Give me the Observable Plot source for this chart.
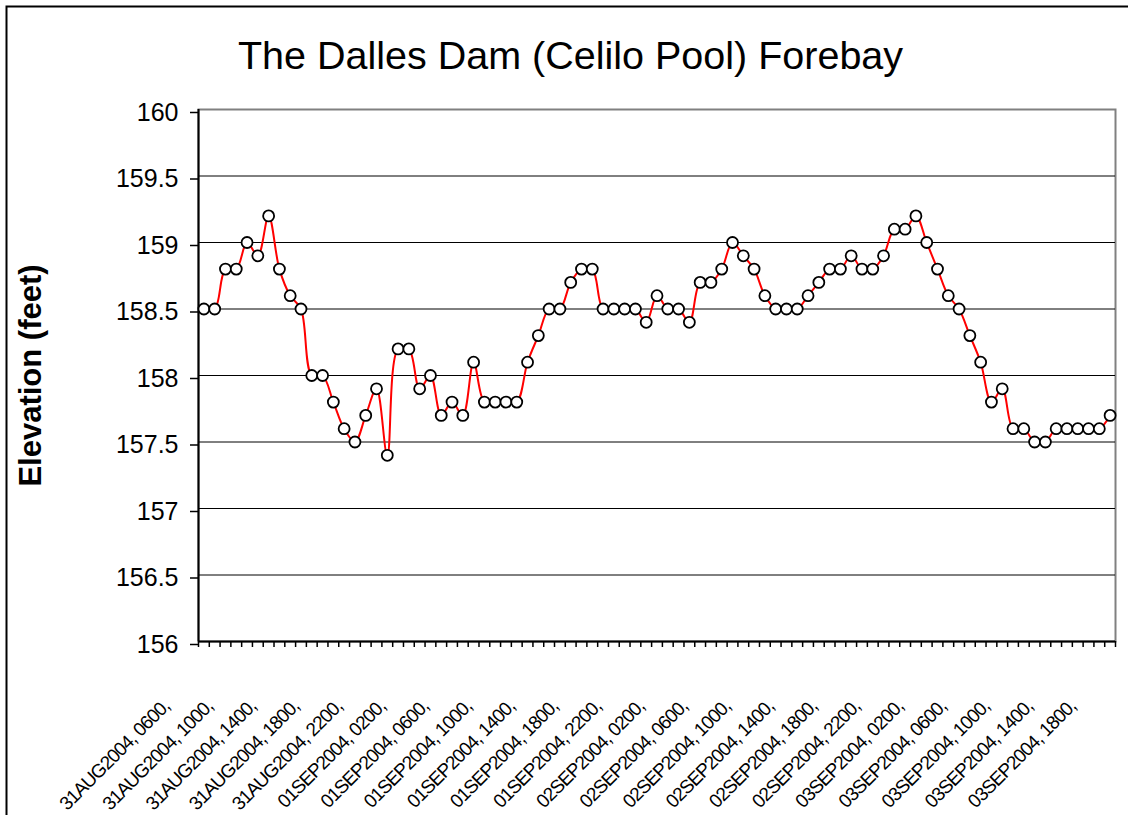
<!DOCTYPE html>
<html><head><meta charset="utf-8">
<script src="https://cdn.jsdelivr.net/npm/d3@7"></script>
<script src="https://cdn.jsdelivr.net/npm/@observablehq/plot@0.6"></script>
<style>
html,body{margin:0;padding:0;background:#fff;}
#chart{width:1128px;height:815px;overflow:hidden;}
</style></head><body><div id="chart"></div>
<script>
const title = "The Dalles Dam (Celilo Pool) Forebay";
const yLabel = "Elevation (feet)";

const categories = [
"31AUG2004, 0600,","31AUG2004, 0700,","31AUG2004, 0800,","31AUG2004, 0900,","31AUG2004, 1000,","31AUG2004, 1100,",
"31AUG2004, 1200,","31AUG2004, 1300,","31AUG2004, 1400,","31AUG2004, 1500,","31AUG2004, 1600,","31AUG2004, 1700,",
"31AUG2004, 1800,","31AUG2004, 1900,","31AUG2004, 2000,","31AUG2004, 2100,","31AUG2004, 2200,","31AUG2004, 2300,",
"01SEP2004, 0000,","01SEP2004, 0100,","01SEP2004, 0200,","01SEP2004, 0300,","01SEP2004, 0400,","01SEP2004, 0500,",
"01SEP2004, 0600,","01SEP2004, 0700,","01SEP2004, 0800,","01SEP2004, 0900,","01SEP2004, 1000,","01SEP2004, 1100,",
"01SEP2004, 1200,","01SEP2004, 1300,","01SEP2004, 1400,","01SEP2004, 1500,","01SEP2004, 1600,","01SEP2004, 1700,",
"01SEP2004, 1800,","01SEP2004, 1900,","01SEP2004, 2000,","01SEP2004, 2100,","01SEP2004, 2200,","01SEP2004, 2300,",
"02SEP2004, 0000,","02SEP2004, 0100,","02SEP2004, 0200,","02SEP2004, 0300,","02SEP2004, 0400,","02SEP2004, 0500,",
"02SEP2004, 0600,","02SEP2004, 0700,","02SEP2004, 0800,","02SEP2004, 0900,","02SEP2004, 1000,","02SEP2004, 1100,",
"02SEP2004, 1200,","02SEP2004, 1300,","02SEP2004, 1400,","02SEP2004, 1500,","02SEP2004, 1600,","02SEP2004, 1700,",
"02SEP2004, 1800,","02SEP2004, 1900,","02SEP2004, 2000,","02SEP2004, 2100,","02SEP2004, 2200,","02SEP2004, 2300,",
"03SEP2004, 0000,","03SEP2004, 0100,","03SEP2004, 0200,","03SEP2004, 0300,","03SEP2004, 0400,","03SEP2004, 0500,",
"03SEP2004, 0600,","03SEP2004, 0700,","03SEP2004, 0800,","03SEP2004, 0900,","03SEP2004, 1000,","03SEP2004, 1100,",
"03SEP2004, 1200,","03SEP2004, 1300,","03SEP2004, 1400,","03SEP2004, 1500,","03SEP2004, 1600,","03SEP2004, 1700,",
"03SEP2004, 1800,"
];

const elevation = [
158.5,158.5,158.8,158.8,159.0,158.9,159.2,158.8,158.6,158.5,
158.0,158.0,157.8,157.6,157.5,157.7,157.9,157.4,158.2,158.2,
157.9,158.0,157.7,157.8,157.7,158.1,157.8,157.8,157.8,157.8,
158.1,158.3,158.5,158.5,158.7,158.8,158.8,158.5,158.5,158.5,
158.5,158.4,158.6,158.5,158.5,158.4,158.7,158.7,158.8,159.0,
158.9,158.8,158.6,158.5,158.5,158.5,158.6,158.7,158.8,158.8,
158.9,158.8,158.8,158.9,159.1,159.1,159.2,159.0,158.8,158.6,
158.5,158.3,158.1,157.8,157.9,157.6,157.6,157.5,157.5,157.6,
157.6,157.6,157.6,157.6,157.7
];

const yTicks = [156, 156.5, 157, 157.5, 158, 158.5, 159, 159.5, 160];
const gridValues = [156.5, 157, 157.5, 158, 158.5, 159, 159.5];
const labelEvery = 4;

const data = categories.map((c, i) => ({i, c, v: elevation[i]}));
const boundaries = d3.range(categories.length + 1).map(i => i - 0.5);
const labeled = data.filter(d => d.i % labelEvery === 0);

const FONT = "'Liberation Sans', Arial, sans-serif";

const chart = Plot.plot({
  width: 1128,
  height: 815,
  marginLeft: 198,
  marginRight: 13,
  marginTop: 109,
  marginBottom: 174,
  style: {fontFamily: FONT, background: "white", color: "black"},
  x: {domain: [-0.5, categories.length - 0.5]},
  y: {domain: [156, 160]},
  marks: [
    Plot.frame({stroke: "black", strokeWidth: 2, insetLeft: -192, insetTop: -103, insetRight: -60, insetBottom: -220}),
    Plot.frame({stroke: "#808080", strokeWidth: 2}),
    Plot.ruleY(gridValues, {stroke: "black", strokeWidth: 1}),
    Plot.ruleX([-0.5], {stroke: "black", strokeWidth: 2}),
    Plot.ruleY([156], {stroke: "black", strokeWidth: 2}),
    Plot.axisY(yTicks, {tickSize: 8, tickPadding: 12, fontSize: 25, strokeWidth: 1.5,
      tickFormat: d => String(d), label: null, dy: 3}),
    Plot.axisX(boundaries, {tickSize: 6, strokeWidth: 1.5, tickFormat: () => "", label: null}),
    Plot.text(labeled, {x: "i", y: () => 156, text: "c", rotate: -45, textAnchor: "end",
      lineAnchor: "bottom", fontSize: 19, dx: -33, dy: 66, fill: "black"}),
    Plot.line(data, {x: "i", y: "v", stroke: "#ff0000", strokeWidth: 2, curve: "catmull-rom"}),
    Plot.dot(data, {x: "i", y: "v", r: 5.5, fill: "white", stroke: "black", strokeWidth: 1.8}),
    Plot.text([title], {frameAnchor: "top", textAnchor: "middle", dx: -86.5, dy: -53, lineAnchor: "middle",
      fontSize: 39.5, fill: "black"}),
    Plot.text([yLabel], {frameAnchor: "left", textAnchor: "middle", rotate: -90, dx: -167, lineAnchor: "middle",
      fontSize: 31, fontWeight: "bold", fill: "black"})
  ]
});
// tighten the letter spacing of the rotated category labels
d3.select(chart).selectAll("text")
  .filter(function() { return categories.includes(this.textContent); })
  .attr("letter-spacing", "-1px");
document.getElementById("chart").appendChild(chart);
</script>
</body></html>
